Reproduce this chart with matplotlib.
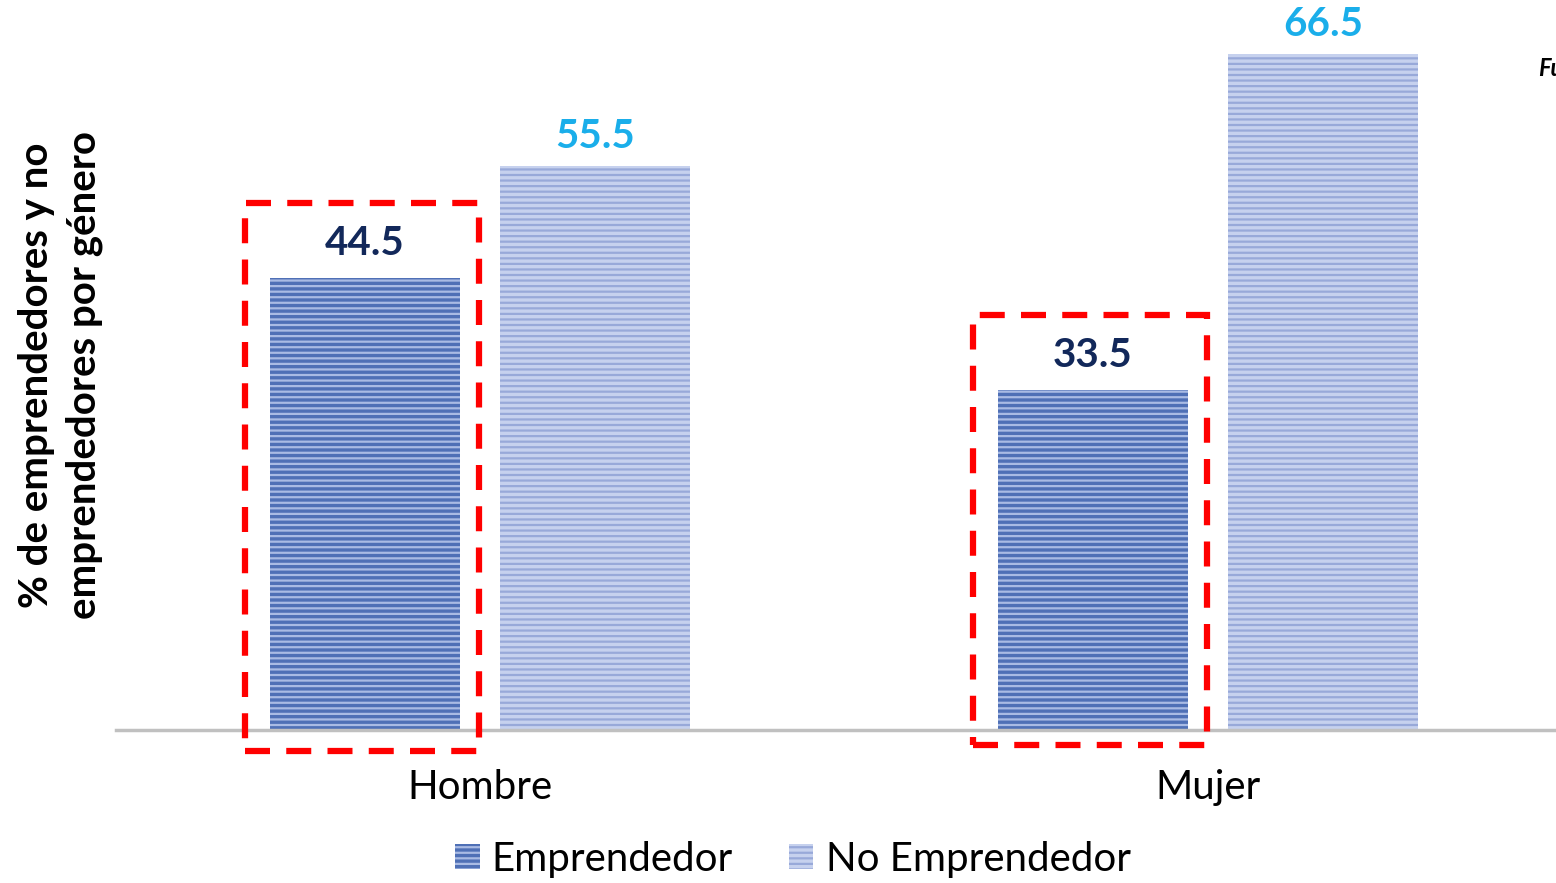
import matplotlib
matplotlib.use("Agg")
import matplotlib.pyplot as plt
from matplotlib.patches import Rectangle, Patch
import numpy as np

# data
categories = ["Hombre", "Mujer"]
emprendedor = [44.5, 33.5]
no_emprendedor = [55.5, 66.5]
series_names = ["Emprendedor", "No Emprendedor"]

plt.rcParams["font.family"] = ["Lato", "DejaVu Sans"]
plt.rcParams["hatch.linewidth"] = 1.6

W, H = 1556, 883
fig = plt.figure(figsize=(W / 100, H / 100), dpi=100)
ax = fig.add_axes([0.0745, (H - 730) / H, 1 - 0.0745, 730 / H])

x = np.arange(len(categories))
width = 0.26
off = 0.158

dark_face, dark_hatch = "#4f70b6", "#a9bbe4"
light_face, light_hatch = "#c6d1ee", "#98a9d9"

ax.bar(x - off, emprendedor, width, color=dark_face, edgecolor=dark_hatch,
       hatch="---", linewidth=0, label=series_names[0])
ax.bar(x + off, no_emprendedor, width, color=light_face, edgecolor=light_hatch,
       hatch="---", linewidth=0, label=series_names[1])

for xi, v in zip(x - off, emprendedor):
    ax.text(xi, v + 3.4, f"{v:.1f}", ha="center", va="center",
            fontsize=29, fontweight="bold", color="#12285a")
for xi, v in zip(x + off, no_emprendedor):
    ax.text(xi, v + 2.9, f"{v:.1f}", ha="center", va="center",
            fontsize=29, fontweight="bold", color="#1aaeea")

# red dashed highlight boxes around the Emprendedor bars
pads = [(-2.07, 7.4), (-1.48, 7.35)]
for xi, v, (lo, hi) in zip(x - off, emprendedor, pads):
    ax.add_patch(Rectangle((xi - width / 2 - 0.035, lo), width + 0.062,
                           v + hi - lo, fill=False, edgecolor="#ff0000",
                           linewidth=4.5, linestyle=(0, (4, 2.6)), clip_on=False, zorder=5))

ax.set_xlim(-0.5, 1.478)
ax.set_ylim(0, 71.85)
ax.set_xticks(x)
ax.set_xticklabels(categories, fontsize=29)
ax.tick_params(axis="x", length=0, pad=28)
ax.set_yticks([])
for s in ["top", "right", "left"]:
    ax.spines[s].set_visible(False)
ax.spines["bottom"].set_color("#c0c0c0")
ax.spines["bottom"].set_linewidth(2.5)

fig.text(61 / W, 1 - 375 / H, "% de emprendedores y no\nemprendedores por género",
         rotation=90, ha="center", va="center", fontsize=29, fontweight="bold",
         linespacing=1.35)

handles = [Patch(facecolor=dark_face, edgecolor=dark_hatch, hatch="---", linewidth=0),
           Patch(facecolor=light_face, edgecolor=light_hatch, hatch="---", linewidth=0)]
fig.legend(handles, series_names, loc="center", bbox_to_anchor=(793 / W, 1 - 859 / H),
           ncol=2, frameon=False, fontsize=29, handlelength=0.6, handleheight=0.6,
           handletextpad=0.3, columnspacing=1.4)

fig.text(1538 / W, 1 - 68 / H, "Fuente", fontsize=17, fontweight="bold",
         fontstyle="italic", ha="left", va="center")

fig.savefig("out.png", dpi=100)
